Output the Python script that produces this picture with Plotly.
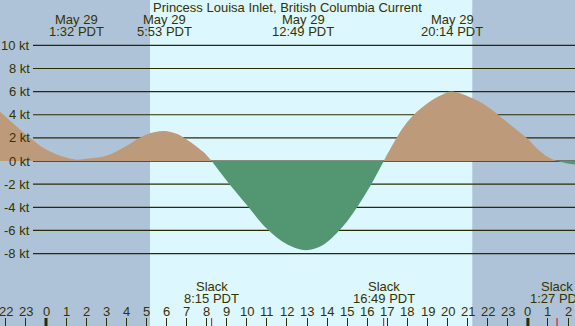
import plotly.graph_objects as go

# ---- data (hours after midnight, May 29, PDT) ----
curve_hours = [-2.29, -2, -1, 0, 1, 1.53, 2, 3, 4, 5, 5.88, 6.5, 7, 7.83, 8, 8.25,
               9, 10, 11, 12, 12.82, 13.5, 14, 15, 16, 16.82, 17, 18, 19, 20, 20.23,
               21, 22, 23, 24, 24.5, 25, 25.45, 26, 26.34]
curve_speeds = [4.25, 3.8, 2.3, 1.0, 0.3, 0.12, 0.2, 0.45, 1.3, 2.3, 2.6, 2.35, 1.87, 0.8, 0.5, 0.0,
                -1.7, -3.8, -5.85, -7.2, -7.7, -7.5, -7.0, -5.2, -2.6, 0.0, 0.6, 3.4, 5.0, 5.95, 6.0,
                5.6, 4.7, 3.3, 1.9, 1.0, 0.35, 0.0, -0.22, -0.3]

event_hours = [1.533, 5.883, 12.817, 20.233, 26.633]
event_dates = ["May 29", "May 29", "May 29", "May 29", "May 30"]
event_times = ["1:32 PDT", "5:53 PDT", "12:49 PDT", "20:14 PDT", "2:38 PDT"]

slack_hours = [8.25, 16.817, 25.45]
slack_times = ["8:15 PDT", "16:49 PDT", "1:27 PDT"]

sunrise_hour = 5.18
sunset_hour = 21.23

level_values = [-8, -6, -4, -2, 0, 2, 4, 6, 8, 10]
level_labels = ["-8 kt", "-6 kt", "-4 kt", "-2 kt", "0 kt", "2 kt", "4 kt", "6 kt", "8 kt", "10 kt"]

tick_hours = list(range(-2, 27))
tick_labels = ["22", "23", "0", "1", "2", "3", "4", "5", "6", "7", "8", "9", "10", "11",
               "12", "13", "14", "15", "16", "17", "18", "19", "20", "21", "22", "23",
               "0", "1", "2"]
midnight_hours = [0, 24]

title_text = "Princess Louisa Inlet, British Columbia Current"

# ---- style ----
W, H = 575, 326
X0, X1 = -2.291, 26.345
Y0, Y1 = -14.26, 13.92
FONT = "Liberation Sans, Arial, sans-serif"
TXT = "#333300"
LINE = "#2b2b00"
DAY = "#ddf7ff"
NIGHT = "#afc3d8"
FLOOD = "#bc9a7a"
EBB = "#529672"


def py(px):
    """pixel row -> paper fraction"""
    return 1 - px / H


def label(text, x, y, xref="x", yref="paper", xanchor="center"):
    return dict(text=text, xref=xref, yref=yref, x=x, y=y, xanchor=xanchor,
                yanchor="middle", showarrow=False,
                font=dict(family=FONT, size=13, color=TXT))


pos_y = [v if v >= 0 else None for v in curve_speeds]
neg_y = [v if v <= 0 else None for v in curve_speeds]

fig = go.Figure()
fig.add_trace(go.Scatter(x=curve_hours, y=pos_y, mode="lines", fill="tozeroy",
                         fillcolor=FLOOD, line=dict(width=0, shape="spline", color=FLOOD),
                         connectgaps=False, hoverinfo="skip", showlegend=False))
fig.add_trace(go.Scatter(x=curve_hours, y=neg_y, mode="lines", fill="tozeroy",
                         fillcolor=EBB, line=dict(width=0, shape="spline", color=EBB),
                         connectgaps=False, hoverinfo="skip", showlegend=False))

shapes = []
# night shading
shapes.append(dict(type="rect", xref="x", yref="paper", x0=X0, x1=sunrise_hour, y0=0, y1=1,
                   fillcolor=NIGHT, line=dict(width=0), layer="below"))
shapes.append(dict(type="rect", xref="x", yref="paper", x0=sunset_hour, x1=X1, y0=0, y1=1,
                   fillcolor=NIGHT, line=dict(width=0), layer="below"))
# level lines
for v in level_values:
    shapes.append(dict(type="line", xref="paper", yref="y", x0=33 / W, x1=1, y0=v, y1=v,
                       line=dict(color=LINE, width=1.2), layer="below"))
# midnight ticks (thick)
for h in midnight_hours:
    shapes.append(dict(type="line", xref="x", yref="paper", x0=h, x1=h, y0=0, y1=8 / H,
                       line=dict(color=LINE, width=3), layer="above"))
# slack ticks (red)
for h in slack_hours:
    shapes.append(dict(type="line", xref="x", yref="paper", x0=h, x1=h, y0=0, y1=8 / H,
                       line=dict(color="#dd0000", width=1), layer="above"))

annotations = [label(title_text, 0.5, py(7.2), xref="paper")]
for v, lab in zip(level_values, level_labels):
    annotations.append(label(lab, 31.5 / W, v, xref="paper", yref="y", xanchor="right"))
for h, d, t in zip(event_hours, event_dates, event_times):
    if X0 <= h <= X1:
        annotations.append(label(d, h, py(19.5)))
        annotations.append(label(t, h, py(31.2)))
for h, t in zip(slack_hours, slack_times):
    annotations.append(label("Slack", h, py(286.8)))
    annotations.append(label(t, h, py(298.8)))
for h, t in zip(tick_hours, tick_labels):
    annotations.append(label(t, h, py(311.5)))

# event labels just beyond the right edge (drawn as unclipped text)
off_h = [h for h in event_hours if h > X1]
off_d = [d for h, d in zip(event_hours, event_dates) if h > X1]
off_t = [t for h, t in zip(event_hours, event_times) if h > X1]
if off_h:
    fig.add_trace(go.Scatter(x=off_h, y=[(161 - 19.5) / 11.57] * len(off_h), mode="text",
                             text=off_d, textposition="middle center", cliponaxis=False,
                             textfont=dict(family=FONT, size=13, color=TXT),
                             hoverinfo="skip", showlegend=False))
    fig.add_trace(go.Scatter(x=off_h, y=[(161 - 31.2) / 11.57] * len(off_h), mode="text",
                             text=off_t, textposition="middle center", cliponaxis=False,
                             textfont=dict(family=FONT, size=13, color=TXT),
                             hoverinfo="skip", showlegend=False))

fig.update_layout(
    width=W, height=H, autosize=False,
    margin=dict(l=0, r=0, t=0, b=0, pad=0),
    plot_bgcolor=DAY, paper_bgcolor=DAY,
    shapes=shapes, annotations=annotations, showlegend=False,
    xaxis=dict(range=[X0, X1], tickvals=tick_hours, showticklabels=False,
               ticks="inside", ticklen=8, tickwidth=1, tickcolor=LINE,
               showgrid=False, zeroline=False, showline=False, fixedrange=True),
    yaxis=dict(range=[Y0, Y1], showticklabels=False, ticks="", showgrid=False,
               zeroline=False, showline=False, fixedrange=True),
)

fig.write_html("out.html", config={"displayModeBar": False},
               post_script="document.body.style.margin='0';document.body.style.overflow='hidden';")
